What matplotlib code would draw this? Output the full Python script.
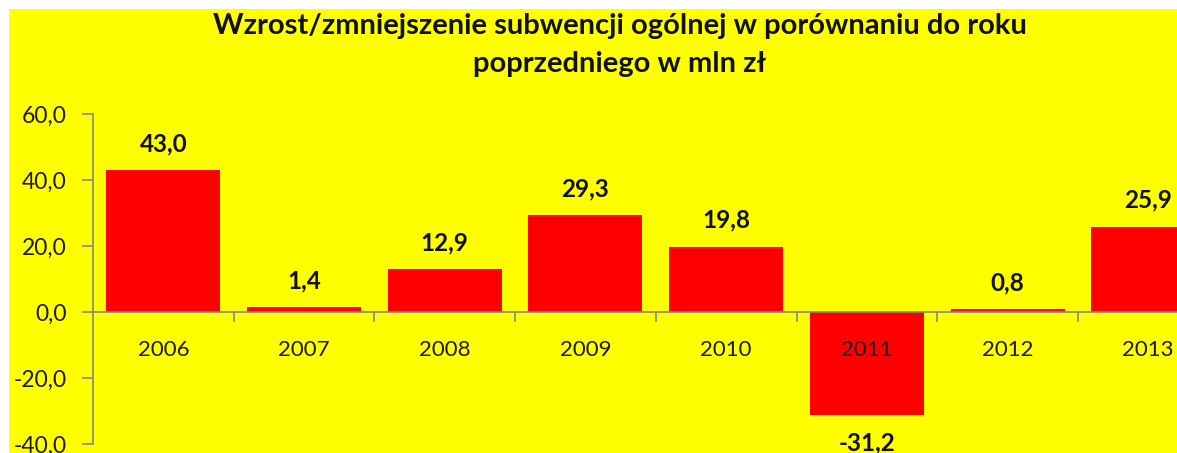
import matplotlib.pyplot as plt
from matplotlib.patches import Rectangle

# data
years = ["2006", "2007", "2008", "2009", "2010", "2011", "2012", "2013"]
values = [43.0, 1.4, 12.9, 29.3, 19.8, -31.2, 0.8, 25.9]
yticks = [-40, -20, 0, 20, 40, 60]

title = "Wzrost/zmniejszenie subwencji ogólnej w porównaniu do roku\npoprzedniego w mln zł"

W, H = 1177, 453
plt.rcParams['font.family'] = ['Lato', 'DejaVu Sans']

fig = plt.figure(figsize=(W / 100, H / 100), dpi=100, facecolor="white")
# yellow chart area, with white strip on top and left
fig.patches.append(Rectangle((9 / W, 0), 1, (H - 9) / H, transform=fig.transFigure,
                             facecolor="#FFFF00", edgecolor="none", zorder=-5))

ax = fig.add_axes([93 / W, 9 / H, (W - 93) / W, 330 / H])
ax.set_facecolor("none")
ax.set_zorder(1)

x = range(len(years))
ax.bar(x, values, width=0.81, color="#FF0000", zorder=1)

fmt = lambda v: f"{v:.1f}".replace(".", ",")

ax.set_yticks(yticks)
ax.set_yticklabels([fmt(v) for v in yticks])
ax.tick_params(axis="y", length=8, width=1.2, color="#868686", labelsize=16.5,
               labelcolor="#1a1a1a", pad=11)

# category labels at centres, tick marks at boundaries
ax.set_xticks(list(x))
ax.set_xticklabels(years)
ax.set_xticks([i + 0.5 for i in x], minor=True)
ax.tick_params(axis="x", which="major", length=0, labelsize=16,
               labelcolor="#1a1a1a", pad=20)
ax.tick_params(axis="x", which="minor", length=7, width=1.2, color="#868686")

# limits after the ticks, so the ticks do not widen them
ax.set_xlim(-0.5, -0.5 + (W - 93) / 140.7)
ax.set_ylim(-40, 60)

for s in ["top", "right"]:
    ax.spines[s].set_visible(False)
ax.spines["bottom"].set_position(("data", 0))
ax.spines["bottom"].set_color("#868686")
ax.spines["bottom"].set_linewidth(1.2)
ax.spines["left"].set_color("#868686")
ax.spines["left"].set_linewidth(1.2)

for i, v in enumerate(values):
    off = 19 if v >= 0 else -20
    ax.annotate(fmt(v), (i, v), xytext=(0, off), textcoords="offset points",
                ha="center", va="center", fontsize=17.5, fontweight="bold",
                color="#111111", annotation_clip=False)

fig.text(620 / W, 1 - 45 / H, title, ha="center", va="center", fontsize=21,
         fontweight="bold", color="#111111", linespacing=1.55)

fig.savefig("out.png", dpi=100, facecolor="white")
